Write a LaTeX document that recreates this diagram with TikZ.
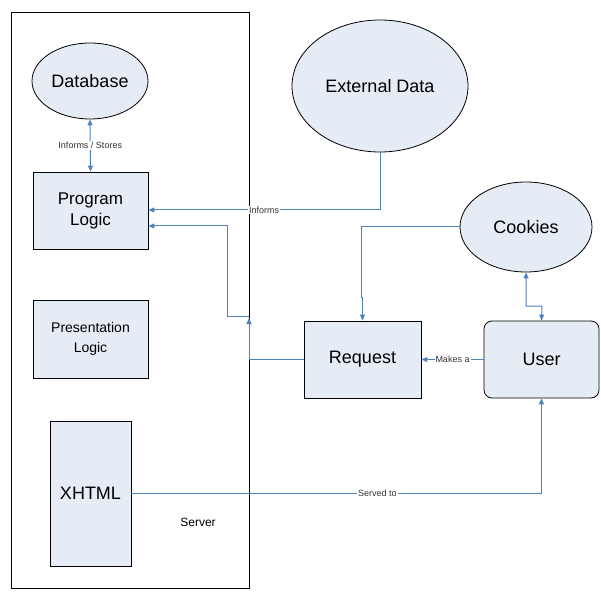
\documentclass[tikz,border=0pt]{standalone}
\usepackage{fontspec}
\setmainfont{Liberation Sans}
\usetikzlibrary{shapes.geometric,arrows.meta}
\definecolor{fillb}{HTML}{E6ECF6}
\definecolor{lineb}{HTML}{4F81BD}
\begin{document}
\begin{tikzpicture}[x=1pt,y=-1pt,
  box/.style={draw=black,fill=fillb,line width=0.8pt,align=center},
  ell/.style={ellipse,draw=black,fill=fillb,line width=0.8pt,inner sep=0},
  big/.style={font=\fontsize{18}{21}\selectfont},
  con/.style={draw=lineb,line width=1pt,-{Triangle[length=6pt,width=5pt]}},
  lab/.style={fill=white,inner sep=1pt,font=\fontsize{9}{10}\selectfont,text=black!80}]
\useasboundingbox (0,0) rectangle (601,601);
\node[draw=black,line width=0.8pt,minimum width=238pt,minimum height=576pt,anchor=north west] (server) at (11,12) {};
\node[font=\fontsize{12}{14}\selectfont] (slab) at (198,522) {Server};
\node[ell,big,minimum width=116pt,minimum height=76pt] (db) at (90,81) {Database};
\node[ell,big,minimum width=176pt,minimum height=132pt] (ext) at (380,86) {External Data};
\node[ell,big,minimum width=132pt,minimum height=90pt] (cook) at (526,227) {Cookies};
\node[box,big,minimum width=115pt,minimum height=77pt,font=\fontsize{17}{21}\selectfont] (pl) at (90.5,210.5) {Program\\Logic};
\node[box,minimum width=115pt,minimum height=78pt,font=\fontsize{14}{20}\selectfont] (prl) at (90.5,339) {Presentation\\Logic};
\node[box,big,minimum width=81pt,minimum height=145pt] (x) at (90.5,493.5) {XHTML};
\node[box,big,minimum width=117pt,minimum height=77pt] (req) at (362.5,359.5) {Request};
\node[box,big,rounded corners=8pt,minimum width=115pt,minimum height=77pt] (user) at (541.5,359.5) {User};
\coordinate (j) at (249,318);
\draw[con,{Triangle[length=6pt,width=5pt]}-{Triangle[length=6pt,width=5pt]}] (db.south) -- node[lab]{Informs / Stores} (pl.north);
\draw[con] (ext.south) |- node[lab,pos=0.75]{Informs} (pl.east |- 0,210);
\draw[con] (req.west) -| (j);
\draw[con] (249,316) -| (227,226) -- (pl.east |- 0,226);
\draw[con] (cook.west) -| (361,297) -| (req.north);
\draw[con,{Triangle[length=6pt,width=5pt]}-{Triangle[length=6pt,width=5pt]}] (cook.south) |- (542,306) -- (user.north);
\draw[con] (user.west) -- node[lab]{Makes a} (req.east);
\draw[con] (x.east |- 0,493) -| node[lab,pos=0.3]{Served to} (user.south);
\end{tikzpicture}
\end{document}
